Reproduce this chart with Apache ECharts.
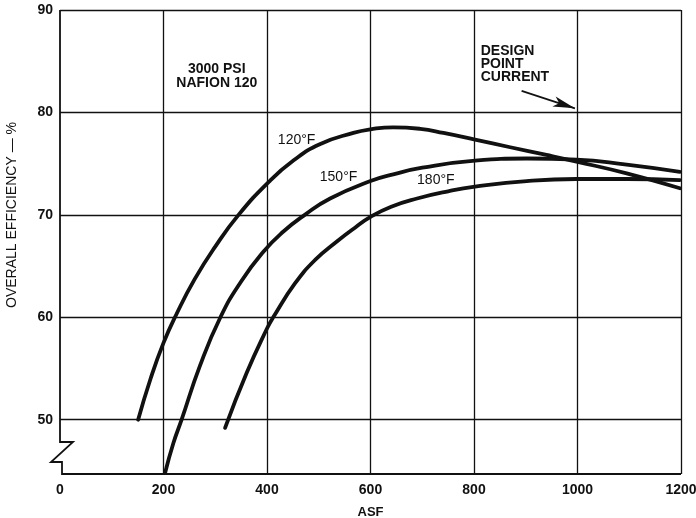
<!DOCTYPE html>
<html>
<head>
<meta charset="utf-8">
<script src="https://cdn.jsdelivr.net/npm/echarts@6/dist/echarts.min.js"></script>
<style>
html,body{margin:0;padding:0;background:#ffffff;}
#chart{width:696px;height:518px;}
</style>
</head>
<body>
<div id="chart"></div>
<script>
// ---- data ----
const xTicks = [0, 200, 400, 600, 800, 1000, 1200];
const yTicks = [50, 60, 70, 80, 90];
const seriesNames = ['120°F', '150°F', '180°F'];

const asf120 = [151, 175, 200, 225, 260, 300, 345, 403, 451, 502, 567, 600, 644, 696, 741, 802, 870, 940, 998, 1095, 1198];
const eff120 = [50, 54, 57.5, 60.3, 63.7, 66.9, 70, 73.2, 75.3, 76.9, 78, 78.35, 78.55, 78.4, 78.0, 77.35, 76.6, 75.85, 75.2, 74.05, 72.6];

const asf150 = [203, 219, 235, 270, 310, 350, 393, 430, 473, 522, 600, 644, 700, 802, 902, 998, 1095, 1198];
const eff150 = [44.8, 47.7, 50, 55.2, 60, 63.5, 66.4, 68.3, 70, 71.6, 73.3, 73.95, 74.6, 75.3, 75.5, 75.4, 74.9, 74.2];

const asf180 = [319, 361, 400, 412, 454, 493, 535, 570, 600, 640, 690, 750, 802, 902, 998, 1095, 1198];
const eff180 = [49.2, 54.6, 58.9, 60, 63.3, 65.6, 67.4, 68.75, 69.8, 70.8, 71.6, 72.3, 72.75, 73.3, 73.5, 73.5, 73.4];

// curve labels: [text, asf, efficiency] (left edge, vertical middle)
const curveLabels = [['120°F', 421, 77.3], ['150°F', 502, 73.7], ['180°F', 690, 73.4]];
const noteText = '3000 PSI\nNAFION 120';
const notePos = [303, 83.5];
const designText = 'DESIGN\nPOINT\nCURRENT';
const designPos = [813, 84.76];
const arrowFrom = [892, 82.1];
const arrowTo = [995, 80.4];

const yAxisTitle = 'OVERALL EFFICIENCY — %';
const xAxisTitle = 'ASF';

// ---- chart ----
const FONT = '"Liberation Sans", Arial, Helvetica, sans-serif';
const INK = '#111111';
const zip = (xs, ys) => xs.map((x, i) => [x, ys[i]]);

const chart = echarts.init(document.getElementById('chart'), null, {renderer: 'canvas'});

const lineSeries = (name, data) => ({
  name: name,
  type: 'line',
  data: data,
  smooth: 0.5,
  showSymbol: false,
  symbol: 'none',
  clip: false,
  lineStyle: {color: INK, width: 3.8, cap: 'round', join: 'round'},
  z: 5
});

const s120 = lineSeries(seriesNames[0], zip(asf120, eff120));
s120.markLine = {
  silent: true,
  symbol: ['none', 'arrow'],
  symbolSize: [8, 22],
  label: {show: false},
  lineStyle: {color: INK, width: 1.7, type: 'solid'},
  data: [[{coord: arrowFrom, symbol: 'none'}, {coord: arrowTo, symbol: 'arrow'}]]
};

const option = {
  animation: false,
  backgroundColor: '#ffffff',
  grid: {left: 60, right: 15, top: 10, bottom: 44, containLabel: false, outerBoundsMode: 'none'},
  xAxis: {
    type: 'value',
    min: xTicks[0],
    max: xTicks[xTicks.length - 1],
    interval: 200,
    name: xAxisTitle,
    nameLocation: 'middle',
    nameGap: 32,
    nameTextStyle: {fontFamily: FONT, fontSize: 13, fontWeight: 'bold', color: INK},
    axisLine: {show: false},
    axisTick: {show: false},
    axisLabel: {margin: 9, fontFamily: FONT, fontSize: 14, fontWeight: 'bold', color: INK,
      formatter: v => String(Math.round(v))},
    splitLine: {show: true, showMinLine: false, lineStyle: {color: INK, width: 1.3}}
  },
  yAxis: {
    type: 'value',
    min: 44.7,
    max: yTicks[yTicks.length - 1],
    splitNumber: 5,
    minInterval: 10,
    maxInterval: 10,
    axisLine: {show: false},
    axisTick: {show: false},
    axisLabel: {
      margin: 7, fontFamily: FONT, fontSize: 14, fontWeight: 'bold', color: INK,
      formatter: v => (yTicks.indexOf(Math.round(v * 10) / 10) >= 0 ? String(Math.round(v)) : '')
    },
    splitLine: {show: true, showMinLine: false, lineStyle: {color: INK, width: 1.3}}
  },
  series: [
    s120,
    lineSeries(seriesNames[1], zip(asf150, eff150)),
    lineSeries(seriesNames[2], zip(asf180, eff180))
  ]
};
chart.setOption(option);

// ---- decorations positioned through the axes ----
const px = (p) => chart.convertToPixel({gridIndex: 0}, p);
const topLeft = px([0, 90]);
const botLeft = px([0, 44.7]);
const botRight = px([1200, 44.7]);
const x0 = topLeft[0], yb = botLeft[1];

const graphics = [];
// left axis with break symbol and bottom axis
graphics.push({
  type: 'polyline',
  z: 20,
  shape: {points: [
    [x0, topLeft[1]], [x0, yb - 32], [x0 + 13, yb - 32], [x0 - 9, yb - 12],
    [x0 + 2, yb - 12], [x0 + 2, yb], [botRight[0], yb]
  ]},
  style: {stroke: INK, lineWidth: 1.8, fill: null, lineJoin: 'miter'}
});

curveLabels.forEach(([t, a, e]) => {
  const p = px([a, e]);
  graphics.push({type: 'text', z: 20, x: p[0], y: p[1],
    style: {text: t, fontFamily: FONT, fontSize: 14, fontWeight: 'normal', fill: INK, align: 'left', verticalAlign: 'middle'}});
});

const np = px(notePos);
graphics.push({type: 'text', z: 20, x: np[0], y: np[1],
  style: {text: noteText, fontFamily: FONT, fontSize: 14, fontWeight: 'bold', lineHeight: 14, fill: INK, align: 'center', verticalAlign: 'middle'}});

const dp = px(designPos);
graphics.push({type: 'text', z: 20, x: dp[0], y: dp[1],
  style: {text: designText, fontFamily: FONT, fontSize: 14, fontWeight: 'bold', lineHeight: 13, fill: INK, align: 'left', verticalAlign: 'middle'}});

// y axis title
graphics.push({type: 'text', z: 20, x: 12, y: 215, rotation: Math.PI / 2,
  style: {text: yAxisTitle, fontFamily: FONT, fontSize: 14, fontWeight: 'normal', fill: INK, align: 'center', verticalAlign: 'middle'}});

chart.setOption({graphic: graphics});
</script>
</body>
</html>
